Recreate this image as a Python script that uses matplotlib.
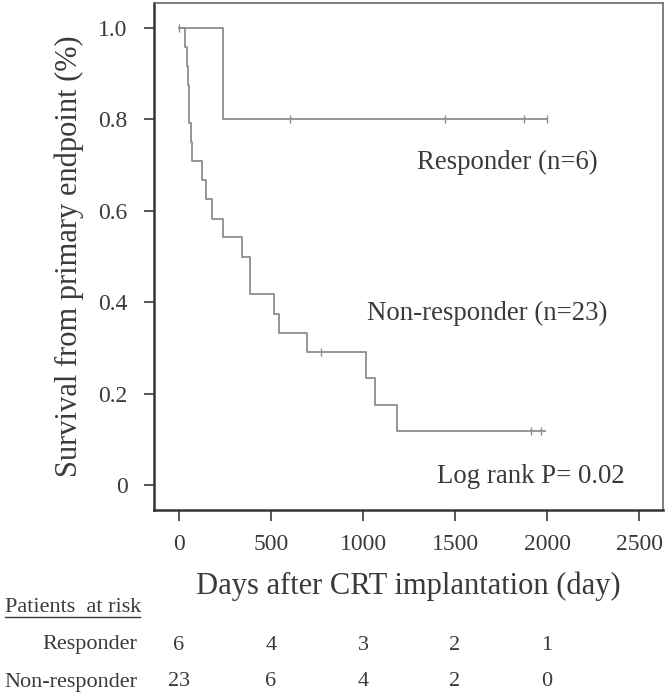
import matplotlib
matplotlib.use("Agg")
import matplotlib.pyplot as plt
import matplotlib.transforms as mtransforms

plt.rcParams['font.family'] = ['Liberation Serif', 'DejaVu Serif']

# Kaplan-Meier step data (days, survival)
resp_days = [0, 239, 2000]
resp_surv = [1.0, 0.8, 0.8]
resp_censor = [0, 603, 1446, 1875, 2000]

nonresp_days = [0, 33, 43, 48, 52, 56, 65, 71, 125, 147, 179, 239, 342, 386,
                516, 543, 696, 1016, 1065, 1185, 1990]
nonresp_surv = [1.0, 0.958, 0.917, 0.875, 0.833, 0.792, 0.750, 0.708, 0.667,
                0.625, 0.583, 0.542, 0.500, 0.417, 0.375, 0.333, 0.292,
                0.233, 0.175, 0.117, 0.117]
nonresp_censor_days = [772, 1913, 1967]
nonresp_censor_surv = [0.292, 0.117, 0.117]

risk_times = [0, 500, 1000, 1500, 2000]
risk_resp = [6, 4, 3, 2, 1]
risk_nonresp = [23, 6, 4, 2, 0]

line_col = '#8e8e8e'
text_col = '#3a3a3a'

fig = plt.figure(figsize=(6.66, 6.94), dpi=100)
ax = fig.add_axes([154 / 666, 1 - 510 / 694, 509 / 666, 507 / 694])

# survival curves
ax.step(resp_days, resp_surv, where='post', color=line_col, lw=1.3)
ax.step(nonresp_days, nonresp_surv, where='post', color=line_col, lw=1.3)

# censor marks
ax.plot(resp_censor, [1.0] + [0.8] * (len(resp_censor) - 1), ls='none',
        marker='|', ms=6, mew=1.0, color=line_col)
ax.plot(nonresp_censor_days, nonresp_censor_surv, ls='none',
        marker='|', ms=6, mew=1.0, color=line_col)

ax.set_xlim(-136, 2630)
ax.set_ylim(-0.055, 1.055)
ax.set_xticks([0, 500, 1000, 1500, 2000, 2500])
ax.set_yticks([0, 0.2, 0.4, 0.6, 0.8, 1.0])
ax.set_yticklabels(['0', '0.2', '0.4', '0.6', '0.8', '1.0'])
ax.tick_params(axis='y', direction='out', length=7, width=1.2, pad=12,
               labelsize=17, colors=text_col)
ax.tick_params(axis='x', direction='out', length=8, width=1.2, pad=9,
               labelsize=17, colors=text_col)

for side in ['left', 'bottom']:
    ax.spines[side].set_linewidth(1.8)
    ax.spines[side].set_color('#333333')
for side in ['top', 'right']:
    ax.spines[side].set_linewidth(1.2)
    ax.spines[side].set_color('#6a6a6a')

ax.set_ylabel('Survival from primary endpoint (%)', fontsize=22,
              color=text_col, labelpad=10)
ax.set_xlabel('Days after CRT implantation (day)', fontsize=22,
              color=text_col, labelpad=12)

ax.text(2277, 0.707, 'Responder (n=6)', ha='right', va='center',
        fontsize=19.3, color=text_col)
ax.text(2326, 0.376, 'Non-responder (n=23)', ha='right', va='center',
        fontsize=19.3, color=text_col)
ax.text(2424, 0.0175, 'Log rank P= 0.02', ha='right', va='center',
        fontsize=19.3, color=text_col)

# number at risk table
trans = mtransforms.blended_transform_factory(ax.transData, fig.transFigure)
fig.text(5 / 666, 1 - 607 / 694, 'Patients  at risk', ha='left', va='center',
         fontsize=16, color=text_col)
fig.add_artist(plt.Line2D([5 / 666, 140 / 666], [1 - 617 / 694] * 2,
                          color=text_col, lw=1.0))
fig.text(137 / 666, 1 - 645 / 694, 'Responder', ha='right', va='center',
         fontsize=16, color=text_col)
fig.text(137 / 666, 1 - 682 / 694, 'Non-responder', ha='right',
         va='center', fontsize=16, color=text_col)
for t, r, n in zip(risk_times, risk_resp, risk_nonresp):
    ax.text(t, 1 - 645 / 694, str(r), transform=trans, ha='center',
            va='center', fontsize=16, color=text_col)
    ax.text(t, 1 - 682 / 694, str(n), transform=trans, ha='center',
            va='center', fontsize=16, color=text_col)

fig.savefig('out.png', dpi=100)
